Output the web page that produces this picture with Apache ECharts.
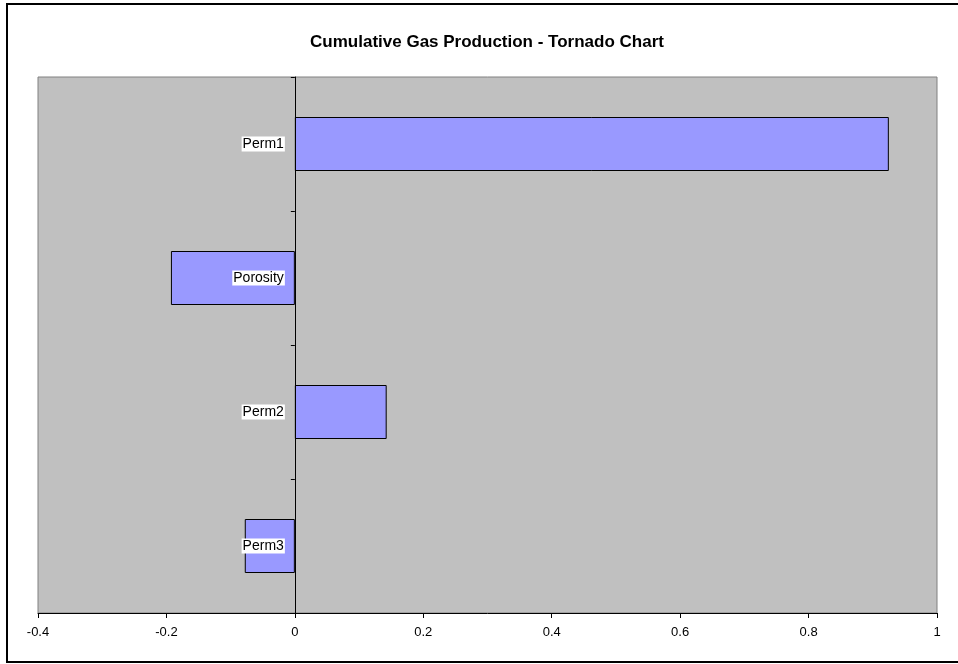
<!DOCTYPE html>
<html>
<head>
<meta charset="utf-8">
<script src="https://cdn.jsdelivr.net/npm/echarts@6/dist/echarts.min.js"></script>
<style>
  html, body { margin: 0; padding: 0; background: #fff; }
  #chart { width: 958px; height: 664px; }
</style>
</head>
<body>
<div id="chart"></div>
<script>
// Sensitivity parameters, top to bottom
const categories = ['Perm1', 'Porosity', 'Perm2', 'Perm3'];
// Change in cumulative gas production per parameter
const sensitivity = [0.925, -0.193, 0.143, -0.078];
const xMin = -0.4;
const xMax = 1;
const xStep = 0.2;

const FONT = 'Liberation Sans, Arial, sans-serif';
const chart = echarts.init(document.getElementById('chart'), null, { renderer: 'canvas' });

chart.setOption({
  animation: false,
  backgroundColor: '#ffffff',
  title: {
    text: 'Cumulative Gas Production - Tornado Chart',
    left: 482,
    textAlign: 'center',
    top: 29,
    textStyle: { fontFamily: FONT, fontSize: 17, fontWeight: 'bold', color: '#000' }
  },
  graphic: [{
    type: 'rect',
    shape: { x: 7, y: 4, width: 960, height: 658 },
    style: { fill: null, stroke: '#000', lineWidth: 2 },
    silent: true,
    z: -1
  }],
  grid: {
    left: 38, right: 21, top: 77, bottom: 51,
    containLabel: false,
    outerBoundsMode: 'none',
    show: true,
    backgroundColor: '#C0C0C0',
    borderColor: '#808080',
    borderWidth: 1
  },
  xAxis: {
    type: 'value',
    min: xMin, max: xMax, interval: xStep,
    axisLine: { show: true, onZero: false, lineStyle: { color: '#000', width: 1 } },
    axisTick: { show: true, length: 5, lineStyle: { color: '#000' } },
    splitLine: { show: false },
    axisLabel: {
      margin: 13,
      fontFamily: FONT, fontSize: 13, color: '#000',
      formatter: v => String(Math.round(v * 10) / 10)
    }
  },
  yAxis: {
    type: 'category',
    data: categories,
    inverse: true,
    axisLine: { show: true, onZero: true, lineStyle: { color: '#000', width: 1 } },
    axisTick: { show: true, length: 4, lineStyle: { color: '#000' } },
    splitLine: { show: false },
    axisLabel: { show: false },
    z: 5
  },
  series: [{
    type: 'bar',
    data: sensitivity,
    barWidth: 54,
    itemStyle: { color: '#9999FF', borderColor: '#000', borderWidth: 1 },
    z: 2
  }, {
    // category names sit just left of the zero line, on white boxes
    type: 'scatter',
    symbolSize: 0,
    silent: true,
    z: 10,
    itemStyle: { opacity: 1 },
    data: categories.map(c => ({ name: c, value: [0, c] })),
    label: {
      show: true,
      position: 'left',
      distance: 10,
      formatter: p => p.name,
      fontFamily: FONT, fontSize: 14, color: '#000',
      backgroundColor: '#ffffff',
      opacity: 1,
      padding: [1, 1, 0, 1]
    }
  }]
});
</script>
</body>
</html>
